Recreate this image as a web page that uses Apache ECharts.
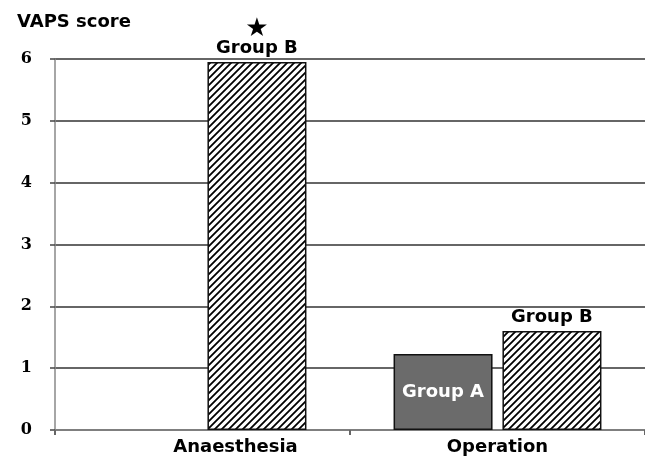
<!DOCTYPE html>
<html>
<head>
<meta charset="utf-8">
<script src="https://cdn.jsdelivr.net/npm/echarts@6/dist/echarts.min.js"></script>
<style>
  html, body { margin: 0; padding: 0; background: #fff; }
  #main { width: 645px; height: 462px; }
</style>
</head>
<body>
<div id="main"></div>
<script>
// chart data
var categories = ['Anaesthesia', 'Operation'];
var groupA = ['-', 1.23];
var groupB = [5.95, 1.60];
var yTicks = [0, 1, 2, 3, 4, 5, 6];

// hatch pattern for group B ( / stripes )
function makeHatch() {
  var s = 7;
  var c = document.createElement('canvas');
  c.width = s;
  c.height = s;
  var ctx = c.getContext('2d');
  ctx.fillStyle = '#fff';
  ctx.fillRect(0, 0, s, s);
  ctx.strokeStyle = '#000';
  ctx.lineWidth = 1.8;
  ctx.beginPath();
  ctx.moveTo(-1, s + 1); ctx.lineTo(s + 1, -1);
  ctx.moveTo(-1, 1); ctx.lineTo(1, -1);
  ctx.moveTo(s - 1, s + 1); ctx.lineTo(s + 1, s - 1);
  ctx.stroke();
  return c;
}

var chart = echarts.init(document.getElementById('main'), null, { renderer: 'canvas' });

var boldSans = 'DejaVu Sans';

var dataB = groupB.map(function (v, i) {
  if (i == 0) {
    return {
      value: v,
      label: {
        formatter: '{s|★}\n{g|Group B}'
      }
    };
  }
  return v;
});

var option = {
  animation: false,
  title: {
    text: 'VAPS score',
    left: 12,
    top: 8,
    textStyle: {
      fontFamily: boldSans,
      fontWeight: 'bold',
      fontSize: 18,
      color: '#000'
    }
  },
  grid: {
    left: 55,
    right: -5,
    top: 59,
    bottom: 32,
    containLabel: false
  },
  xAxis: {
    type: 'category',
    data: categories,
    axisLine: { lineStyle: { color: '#888', width: 1.5 } },
    axisTick: { show: true, length: 5, lineStyle: { color: '#666', width: 2 } },
    axisLabel: {
      margin: 8,
      color: '#000',
      fontFamily: boldSans,
      fontWeight: 'bold',
      fontSize: 18,
      formatter: function (v, i) {
        if (i == 0) return '{a|' + v + '}';
        return v;
      },
      rich: {
        a: {
          padding: [0, 0, 0, 66],
          fontFamily: boldSans,
          fontWeight: 'bold',
          fontSize: 18,
          color: '#000'
        }
      }
    }
  },
  yAxis: {
    type: 'value',
    min: yTicks[0],
    max: yTicks[yTicks.length - 1],
    interval: 1,
    axisLine: { show: true, lineStyle: { color: '#888', width: 1.5 } },
    axisTick: { show: true, length: 5, lineStyle: { color: '#444', width: 1.5 } },
    axisLabel: {
      margin: 23,
      color: '#000',
      fontFamily: 'DejaVu Serif',
      fontWeight: 'bold',
      fontSize: 16
    },
    splitLine: { lineStyle: { color: '#333', width: 1.5 } }
  },
  series: [
    {
      name: 'Group A',
      type: 'bar',
      data: groupA,
      barWidth: 99,
      barGap: '10%',
      itemStyle: {
        color: '#6b6b6b',
        borderColor: '#111',
        borderWidth: 1.5
      },
      label: {
        show: true,
        position: 'inside',
        formatter: 'Group A',
        color: '#fff',
        fontFamily: boldSans,
        fontWeight: 'bold',
        fontSize: 18
      }
    },
    {
      name: 'Group B',
      type: 'bar',
      data: dataB,
      barWidth: 99,
      barGap: '10%',
      itemStyle: {
        color: { image: makeHatch(), repeat: 'repeat' },
        borderColor: '#111',
        borderWidth: 1.5
      },
      label: {
        show: true,
        position: 'top',
        distance: 4,
        formatter: '{g|Group B}',
        rich: {
          g: {
            fontFamily: boldSans,
            fontWeight: 'bold',
            fontSize: 18,
            color: '#000',
            lineHeight: 20
          },
          s: {
            fontFamily: boldSans,
            fontSize: 26,
            color: '#000',
            lineHeight: 18
          }
        }
      }
    }
  ]
};

chart.setOption(option);
</script>
</body>
</html>
